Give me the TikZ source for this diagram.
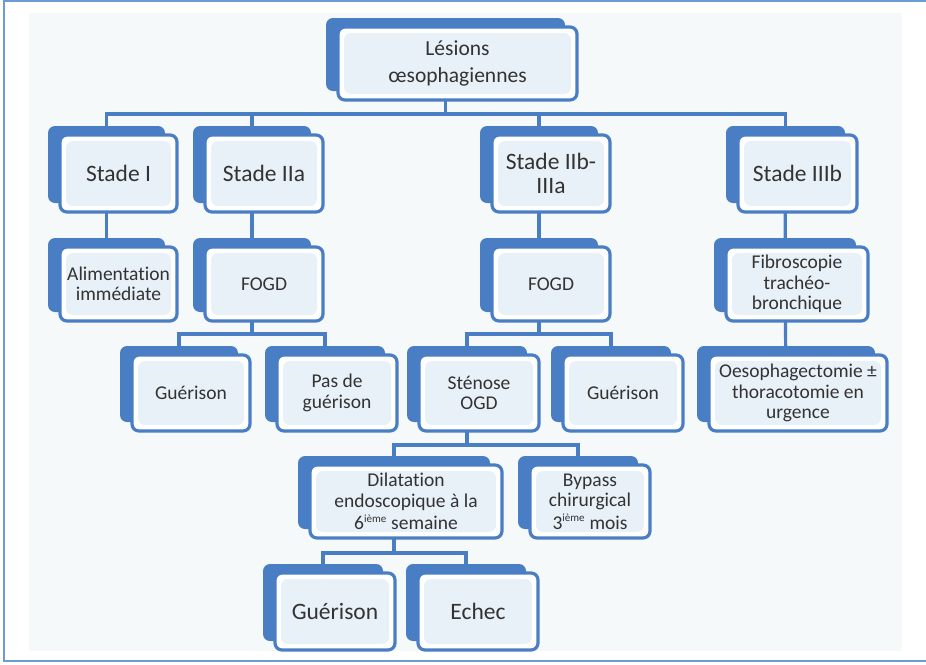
\documentclass[tikz,border=0pt]{standalone}
\usepackage{fontspec}
\setmainfont{Carlito}[Ligatures=NoCommon]
\usetikzlibrary{backgrounds}
\definecolor{boxblue}{HTML}{4A7EC4}
\definecolor{innerblue}{HTML}{E8F0F8}
\definecolor{txt}{HTML}{333333}
\definecolor{framec}{HTML}{6C9BD6}
\definecolor{pagebg}{HTML}{F6F9FA}
\pgfdeclarelayer{base}
\pgfsetlayers{base,background,main}
\tikzset{
  backbox/.style={fill=boxblue, rounded corners=7pt, inner sep=0pt},
  frontbox/.style={draw=boxblue, line width=3.2pt, fill=white, rounded corners=7pt,
    inner sep=0pt, align=center, text=txt,
    path picture={\fill[innerblue] ([shift={(6pt,6pt)}]path picture bounding box.south west)
      rectangle ([shift={(-6pt,-6pt)}]path picture bounding box.north east);}},
  link/.style={draw=boxblue, line width=3.2pt},
  fnormal/.style={font=\fontsize{19.5}{20.5}\selectfont},
  fstade/.style={font=\fontsize{23.5}{24}\selectfont},
  ftop/.style={font=\fontsize{21.5}{27}\selectfont},
  fbig/.style={font=\fontsize{23.5}{26}\selectfont},
}
% name, x, y, w, h, font style, text
\newcommand\boxnode[7]{%
  \node[backbox, minimum width=#4pt, minimum height=#5pt] (#1) at (#2-12,#3-9) {};
  \node[frontbox, #6, minimum width=#4pt, minimum height=#5pt] (#1f) at (#2,#3) {#7};
}
\newcommand\supx[1]{\textsuperscript{\fontsize{11}{11}\selectfont #1}}
\begin{document}
\begin{tikzpicture}[x=1pt,y=-1pt]
\useasboundingbox (0,0) rectangle (926,664);
\begin{pgfonlayer}{base}
  \fill[pagebg] (29,13) rectangle (902,651);
  \draw[framec, line width=1.5pt] (926,1) -- (4,1) -- (4,661) -- (926,661);
\end{pgfonlayer}

\boxnode{top}{457.5}{63.5}{239}{73}{ftop}{Lésions\\œsophagiennes}
\boxnode{s1}{118.5}{173.5}{117}{77}{fstade}{Stade I}
\boxnode{s2}{264}{173.5}{118}{77}{fstade}{Stade IIa}
\boxnode{s3}{551}{173.5}{118}{77}{fstade}{Stade IIb-\\IIIa}
\boxnode{s4}{797.5}{173.5}{119}{77}{fstade}{Stade IIIb}
\boxnode{alim}{118.5}{284}{117}{74}{fnormal}{Alimentation\\immédiate}
\boxnode{fogda}{264}{284}{118}{74}{fnormal}{FOGD}
\boxnode{fogdb}{551}{284}{118}{74}{fnormal}{FOGD}
\boxnode{fibro}{797}{284}{142}{74}{fnormal}{Fibroscopie\\trachéo-\\bronchique}
\boxnode{guea}{191}{393}{118}{76}{fnormal}{Guérison}
\boxnode{pas}{337}{393}{120}{76}{fnormal}{Pas de\\guérison}
\boxnode{sten}{479}{393}{120}{76}{fnormal}{Sténose\\OGD}
\boxnode{gueb}{623}{393}{120}{76}{fnormal}{Guérison}
\boxnode{oeso}{798}{393}{178}{76}{fnormal}{Oesophagectomie ±\\thoracotomie en\\urgence}
\boxnode{dil}{406}{501.5}{192}{73}{fnormal}{Dilatation\\endoscopique à la\\[2pt]6\supx{ième} semaine}
\boxnode{byp}{590}{501.5}{120}{73}{fnormal}{Bypass\\chirurgical\\[2pt]3\supx{ième} mois}
\boxnode{guec}{335}{611.5}{120}{77}{fbig}{Guérison}
\boxnode{echec}{478}{611.5}{120}{77}{fbig}{Echec}

\coordinate (ya) at (0,114);
\coordinate (yb) at (0,334);
\coordinate (yc) at (0,445);
\coordinate (yd) at (0,553);
\begin{pgfonlayer}{background}
  \draw[link] (top.center) -- (top.center |- ya);
  \draw[link] (s1.center) |- (s4.center |- ya) -- (s4.center);
  \draw[link] (s2.center) -- (s2.center |- ya);
  \draw[link] (s3.center) -- (s3.center |- ya);
  \draw[link] (s1.center) -- (alim.center);
  \draw[link] (s2.center) -- (fogda.center);
  \draw[link] (s3.center) -- (fogdb.center);
  \draw[link] (s4.center) -- (fibro.center);
  \draw[link] (fibro.center) -- (oeso.center);
  \draw[link] (fogda.center) -- (fogda.center |- yb);
  \draw[link] (guea.center) |- (pas.center |- yb) -- (pas.center);
  \draw[link] (fogdb.center) -- (fogdb.center |- yb);
  \draw[link] (sten.center) |- (gueb.center |- yb) -- (gueb.center);
  \draw[link] (sten.center) -- (sten.center |- yc);
  \draw[link] (dil.center) |- (byp.center |- yc) -- (byp.center);
  \draw[link] (dil.center) -- (dil.center |- yd);
  \draw[link] (guec.center) |- (echec.center |- yd) -- (echec.center);
\end{pgfonlayer}
\end{tikzpicture}
\end{document}
